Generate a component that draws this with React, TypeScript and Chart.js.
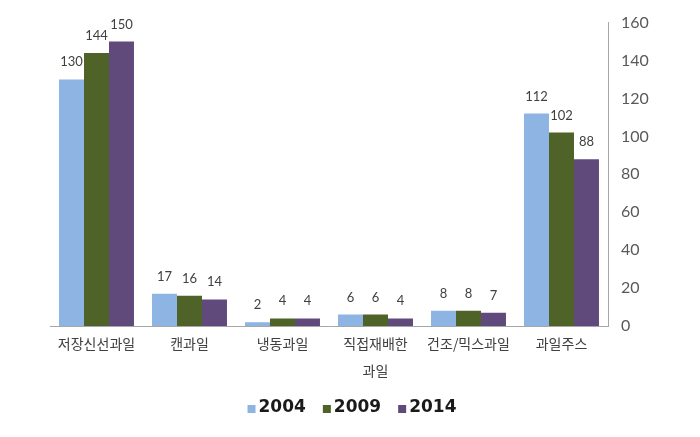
import React, { useEffect, useRef } from "react";
import { Chart, registerables } from "chart.js";

Chart.register(...registerables);

const categories: (string | string[])[] = [
  "저장신선과일",
  "캔과일",
  "냉동과일",
  ["직접재배한", "과일"],
  "건조/믹스과일",
  "과일주스",
];
const series2004 = [130, 17, 2, 6, 8, 112];
const series2009 = [144, 16, 4, 6, 8, 102];
const series2014 = [150, 14, 4, 4, 7, 88];
const seriesNames = ["2004", "2009", "2014"];
const seriesColors = ["#8EB4E3", "#4F6228", "#604A7B"];
const yTicks = [0, 20, 40, 60, 80, 100, 120, 140, 160];

const valueLabels = {
  id: "valueLabels",
  afterDatasetsDraw(chart: any) {
    const ctx = chart.ctx;
    ctx.save();
    ctx.font = "13px Lato";
    ctx.fillStyle = "#404040";
    ctx.textAlign = "center";
    ctx.textBaseline = "alphabetic";
    chart.data.datasets.forEach((ds: any, i: number) => {
      const meta = chart.getDatasetMeta(i);
      meta.data.forEach((el: any, j: number) => {
        ctx.fillText(String(ds.data[j]), el.x, el.y - 13);
      });
    });
    ctx.restore();
  },
};

const customLegend = {
  id: "customLegend",
  afterDraw(chart: any) {
    const ctx = chart.ctx;
    ctx.save();
    ctx.font = "bold 17px 'DejaVu Sans'";
    const box = 8;
    const gap = 3;
    const spacing = 17;
    const items = chart.data.datasets.map((ds: any) => ({
      label: ds.label,
      color: ds.backgroundColor,
      w: ctx.measureText(ds.label).width,
    }));
    const total =
      items.reduce((a: number, it: any) => a + box + gap + it.w, 0) + spacing * (items.length - 1);
    let x = chart.width / 2 - total / 2 + 2;
    const y = 408;
    ctx.textBaseline = "middle";
    ctx.textAlign = "left";
    items.forEach((it: any) => {
      ctx.fillStyle = it.color;
      ctx.fillRect(x, y - 3, box, box);
      x += box + gap;
      ctx.fillStyle = "#1a1a1a";
      ctx.fillText(it.label, x, y);
      x += it.w + spacing;
    });
    ctx.restore();
  },
};

export default function App() {
  const ref = useRef<HTMLCanvasElement>(null);
  useEffect(() => {
    if (!ref.current) return;
    const chart = new Chart(ref.current, {
      type: "bar",
      data: {
        labels: categories,
        datasets: [series2004, series2009, series2014].map((d, i) => ({
          label: seriesNames[i],
          data: d,
          backgroundColor: seriesColors[i],
          borderWidth: 0,
          categoryPercentage: 0.806,
          barPercentage: 1,
        })),
      },
      options: {
        responsive: false,
        animation: false,
        devicePixelRatio: 1,
        layout: { padding: { left: 50, top: 19, right: 0, bottom: 47 } },
        plugins: {
          tooltip: { enabled: false },
          legend: { display: false },
        },
        scales: {
          x: {
            grid: { display: false, drawTicks: false },
            border: { display: true, color: "#a6a6a6", width: 1 },
            ticks: {
              color: "#404040",
              padding: 4,
              maxRotation: 0,
              autoSkip: false,
              font: { family: "'Noto Sans CJK KR'", size: 14, lineHeight: 1.93 },
            },
            afterFit: (s: any) => {
              s.height = 64;
            },
          },
          y: {
            position: "right",
            min: 0,
            max: 160,
            afterBuildTicks: (s: any) => {
              s.ticks = yTicks.map((v) => ({ value: v }));
            },
            grid: { display: false, drawTicks: false },
            border: { display: true, color: "#a6a6a6", width: 1 },
            ticks: {
              color: "#595959",
              padding: 13,
              font: { family: "Lato", size: 16 },
            },
            afterFit: (s: any) => {
              s.width = 92;
            },
          },
        },
      },
      plugins: [valueLabels, customLegend],
    });
    return () => chart.destroy();
  }, []);
  return (
    <div style={{ position: "fixed", left: 0, top: 0, width: 700, height: 437, background: "#fff" }}>
      <canvas ref={ref} width={700} height={437} />
    </div>
  );
}
